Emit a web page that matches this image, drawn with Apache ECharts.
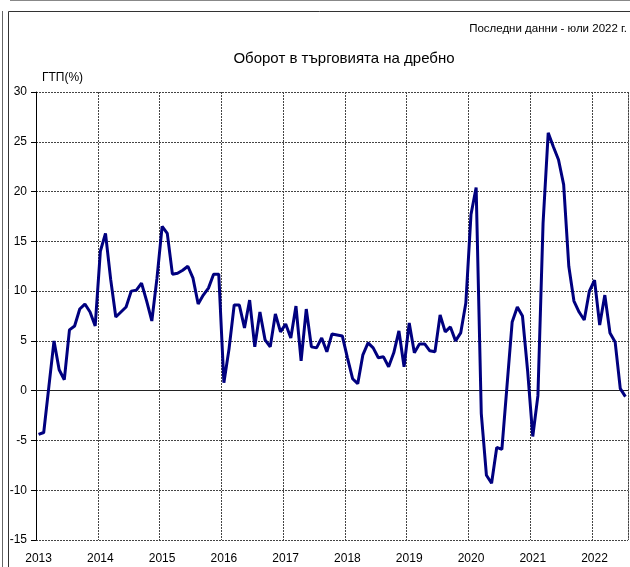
<!DOCTYPE html>
<html>
<head>
<meta charset="utf-8">
<script src="https://cdn.jsdelivr.net/npm/echarts@6/dist/echarts.min.js"></script>
<style>
  html, body { margin: 0; padding: 0; background: #fff; }
  #chart { width: 630px; height: 567px; }
</style>
</head>
<body>
<div id="chart"></div>
<script>
// ГТП (%) по месеци, 2013-01 .. 2022-07
const v2013 = [-4.4, -4.2, 0.4, 5.0, 2.1, 1.1, 6.1, 6.5, 8.2, 8.7, 7.9, 6.5]
const v2014 = [14.0, 15.8, 11.2, 7.4, 7.9, 8.4, 10.0, 10.1, 10.8, 9.0, 7.0, 11.3]
const v2015 = [16.5, 15.8, 11.7, 11.8, 12.1, 12.5, 11.3, 8.7, 9.6, 10.3, 11.7, 11.7]
const v2016 = [0.8, 4.2, 8.6, 8.6, 6.3, 9.1, 4.4, 7.9, 5.1, 4.4, 7.7, 5.9]
const v2017 = [6.7, 5.3, 8.5, 3.0, 8.2, 4.4, 4.3, 5.3, 3.9, 5.7, 5.6, 5.5]
const v2018 = [3.3, 1.2, 0.7, 3.6, 4.8, 4.3, 3.3, 3.4, 2.4, 3.8, 6.0, 2.4]
const v2019 = [6.8, 3.8, 4.7, 4.7, 4.0, 3.9, 7.6, 5.9, 6.4, 5.0, 5.8, 8.8]
const v2020 = [17.7, 20.4, -2.3, -8.5, -9.3, -5.7, -5.9, 0.5, 6.9, 8.4, 7.5, 2.0]
const v2021 = [-4.6, -0.5, 16.8, 25.9, 24.5, 23.2, 20.7, 12.5, 9.0, 7.9, 7.1, 10.0]
const v2022 = [11.1, 6.6, 9.6, 5.8, 4.9, 0.2, -0.6]

const years = ['2013', '2014', '2015', '2016', '2017', '2018', '2019', '2020', '2021', '2022']
const values = [].concat(v2013, v2014, v2015, v2016, v2017, v2018, v2019, v2020, v2021, v2022)

// категории - месеци, етикет само на януари
const months = values.map((v, i) => years[Math.floor(i / 12)] + '-' + String(i % 12 + 1).padStart(2, '0'))

const FONT = '"Liberation Sans", Arial, sans-serif'
const GRID = { left: 36, right: 2, top: 92, bottom: 27 }

const chart = echarts.init(document.getElementById('chart'))

chart.setOption({
  animation: false,
  backgroundColor: '#fff',
  textStyle: { fontFamily: FONT },
  title: [
    {
      text: 'Оборот в търговията на дребно',
      left: 339,
      top: 46,
      textAlign: 'center',
      textStyle: { fontFamily: FONT, fontSize: 15, fontWeight: 'normal', color: '#000' }
    },
    {
      text: 'Последни данни - юли 2022 г.',
      right: -2,
      top: 18,
      textStyle: { fontFamily: FONT, fontSize: 11.5, fontWeight: 'normal', color: '#000' }
    },
    {
      text: 'ГТП(%)',
      left: 37,
      top: 67,
      textStyle: { fontFamily: FONT, fontSize: 12, fontWeight: 'normal', color: '#000' }
    }
  ],
  grid: GRID,
  xAxis: {
    type: 'category',
    data: months,
    boundaryGap: true,
    axisLine: { show: false },
    axisTick: { show: false },
    axisLabel: {
      interval: (i) => i % 12 === 0,
      formatter: (v) => v.slice(0, 4),
      margin: 13,
      fontFamily: FONT,
      fontSize: 12,
      color: '#000'
    },
    splitLine: {
      show: true,
      interval: (i) => i % 12 === 0,
      lineStyle: { color: '#444', width: 1, type: [2, 1] }
    }
  },
  yAxis: {
    type: 'value',
    min: -15,
    max: 30,
    interval: 5,
    axisLine: { show: true, lineStyle: { color: '#000', width: 1 } },
    axisTick: { show: true, length: 5, lineStyle: { color: '#000' } },
    axisLabel: { margin: 9, fontFamily: FONT, fontSize: 12, color: '#000' },
    splitLine: { show: true, lineStyle: { color: '#444', width: 1, type: [2, 1] } }
  },
  series: [
    {
      type: 'line',
      data: values,
      showSymbol: false,
      symbol: 'none',
      lineStyle: { color: '#00007f', width: 3 },
      z: 3,
      markLine: {
        silent: true,
        symbol: 'none',
        label: { show: false },
        lineStyle: { color: '#222', width: 1, type: 'solid' },
        data: [{ yAxis: 0 }],
        z: 2
      }
    }
  ],
  graphic: [
    // рамка на прозореца
    { type: 'line', shape: { x1: 10, y1: 0.5, x2: 630, y2: 0.5 }, style: { stroke: '#888', lineWidth: 1 } },
    { type: 'line', shape: { x1: 2.5, y1: 11, x2: 2.5, y2: 567 }, style: { stroke: '#666', lineWidth: 1 } },
    { type: 'line', shape: { x1: 8.5, y1: 11.5, x2: 630, y2: 11.5 }, style: { stroke: '#333', lineWidth: 1 } },
    { type: 'line', shape: { x1: 8.5, y1: 11.5, x2: 8.5, y2: 567 }, style: { stroke: '#333', lineWidth: 1 } },
    { type: 'line', shape: { x1: 628.5, y1: 92, x2: 628.5, y2: 540 }, style: { stroke: '#999', lineWidth: 1 } }
  ]
})
</script>
</body>
</html>
